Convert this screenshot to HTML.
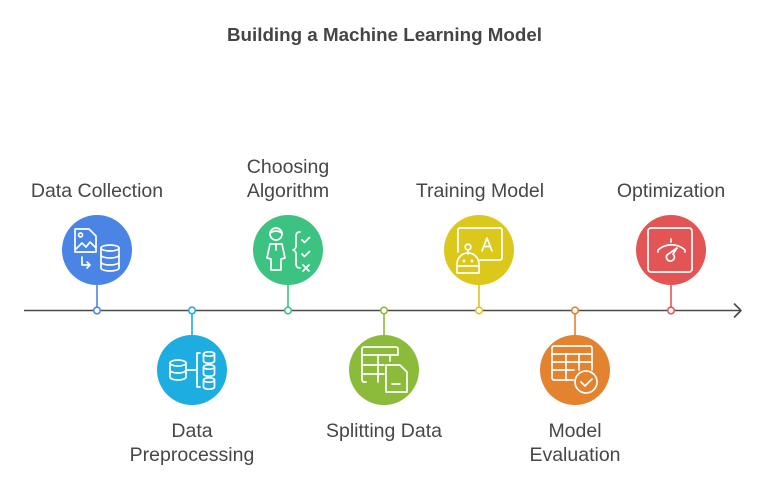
<!DOCTYPE html>
<html><head><meta charset="utf-8"><style>
html,body{margin:0;padding:0;background:#fff;}
svg{display:block;}
text{font-family:"Liberation Sans",Arial,sans-serif;}
</style></head><body>
<svg width="768" height="493" viewBox="0 0 768 493" xmlns="http://www.w3.org/2000/svg">
<rect width="768" height="493" fill="#fff"/>
<text x="384.5" y="41" text-anchor="middle" font-size="18" font-weight="bold" fill="#454545" textLength="315" lengthAdjust="spacingAndGlyphs">Building a Machine Learning Model</text>

<!-- axis -->
<line x1="24" y1="310.5" x2="741" y2="310.5" stroke="#4a4a4a" stroke-width="1.6"/>
<polyline points="734.5,304 741,310.5 734.5,317" fill="none" stroke="#4a4a4a" stroke-width="1.6" stroke-linecap="round" stroke-linejoin="round"/>

<!-- connectors -->
<g stroke-width="1.6">
<line x1="97" y1="284" x2="97" y2="310" stroke="#4A85E6"/>
<line x1="192" y1="310" x2="192" y2="336" stroke="#1EADE0"/>
<line x1="288" y1="284" x2="288" y2="310" stroke="#3DC381"/>
<line x1="384" y1="310" x2="384" y2="336" stroke="#8CBA3B"/>
<line x1="479" y1="284" x2="479" y2="310" stroke="#DCC71B"/>
<line x1="575" y1="310" x2="575" y2="336" stroke="#E3822F"/>
<line x1="671" y1="284" x2="671" y2="310" stroke="#E35555"/>
</g>
<g fill="#fff" stroke-width="1.6">
<circle cx="97" cy="310.5" r="3.3" stroke="#4A85E6"/>
<circle cx="192" cy="310.5" r="3.3" stroke="#1EADE0"/>
<circle cx="288" cy="310.5" r="3.3" stroke="#3DC381"/>
<circle cx="384" cy="310.5" r="3.3" stroke="#8CBA3B"/>
<circle cx="479" cy="310.5" r="3.3" stroke="#DCC71B"/>
<circle cx="575" cy="310.5" r="3.3" stroke="#E3822F"/>
<circle cx="671" cy="310.5" r="3.3" stroke="#E35555"/>
</g>

<!-- circles -->
<circle cx="97" cy="250" r="35" fill="#4A85E6"/>
<circle cx="192" cy="370" r="35" fill="#1EADE0"/>
<circle cx="288" cy="250" r="35" fill="#3DC381"/>
<circle cx="384" cy="370" r="35" fill="#8CBA3B"/>
<circle cx="479" cy="250" r="35" fill="#DCC71B"/>
<circle cx="575" cy="370" r="35" fill="#E3822F"/>
<circle cx="671" cy="250" r="35" fill="#E35555"/>

<g fill="none" stroke="#fff" stroke-width="1.7" stroke-linecap="round" stroke-linejoin="round">
<!-- Icon 1: image doc + arrow + database -->
<path d="M75,229 h14 l7,7 v16 h-21 z"/>
<circle cx="80.5" cy="235" r="2"/>
<path d="M76,249 l6,-6 l4,4 l4,-5 l5,5"/>
<path d="M82,257 v8 h8 M87,262 l3,3 l-3,3"/>
<ellipse cx="110" cy="248" rx="9" ry="3"/>
<path d="M101,248 v20 a9,3 0 0 0 18,0 v-20"/>
<path d="M101,255 a9,3 0 0 0 18,0 M101,262 a9,3 0 0 0 18,0"/>

<!-- Icon 2: db + bracket + 3 small dbs -->
<ellipse cx="178" cy="363" rx="8" ry="3"/>
<path d="M170,363 v14 a8,3 0 0 0 16,0 v-14"/>
<path d="M170,370 a8,3 0 0 0 16,0"/>
<path d="M186,370 h11 M200,353 h-3 v34 h3"/>
<ellipse cx="209" cy="354" rx="5.5" ry="2.2"/>
<path d="M203.5,354 v7 a5.5,2.2 0 0 0 11,0 v-7"/>
<ellipse cx="209" cy="367" rx="5.5" ry="2.2"/>
<path d="M203.5,367 v7 a5.5,2.2 0 0 0 11,0 v-7"/>
<ellipse cx="209" cy="380" rx="5.5" ry="2.2"/>
<path d="M203.5,380 v7 a5.5,2.2 0 0 0 11,0 v-7"/>

<!-- Icon 3: person + brace + checks -->
<circle cx="276" cy="234" r="6"/>
<path d="M270,233 q6,-4 12,0"/>
<path d="M270,244 h12 l3,14 l-4,1 l0,11 h-10 l0,-11 l-4,-1 z"/>
<path d="M276,244 v6"/>
<path d="M300,232 q-4,0 -4,4 v10 q0,3 -3,4 q3,1 3,4 v10 q0,4 4,4"/>
<path d="M302,240 l2.5,2.5 l5,-5"/>
<path d="M302,254 l2.5,2.5 l5,-5"/>
<path d="M303,265 l6,6 M309,265 l-6,6"/>

<!-- Icon 4: table + doc -->
<path d="M366,382 h-2 a2,2 0 0 1 -2,-2 v-31 a2,2 0 0 1 2,-2 h32 a2,2 0 0 1 2,2 v6 h-36"/>
<path d="M378,355 v27 M362,365 h22 M362,374 h22 M390,355 v6"/>
<path d="M386,365 h14 l7,7 v20 h-21 z"/>
<path d="M392,384 h8"/>

<!-- Icon 5: board + A + robot -->
<path d="M458,252 v-22 a2,2 0 0 1 2,-2 h40 a2,2 0 0 1 2,2 v28 a2,2 0 0 1 -2,2 h-20"/>
<path d="M482,251 l5,-13 l5,13 M484,246.5 h6"/>
<circle cx="468" cy="247" r="2.8"/>
<path d="M468,250 v4"/>
<path d="M457,273 v-9 a9,9 0 0 1 22,0 v9 z"/>
<path d="M457,266 h22"/>
<circle cx="464" cy="261" r="0.6"/>
<circle cx="472" cy="261" r="0.6"/>

<!-- Icon 6: table + check circle -->
<path d="M573,380 h-19 a2,2 0 0 1 -2,-2 v-30 a2,2 0 0 1 2,-2 h36 a2,2 0 0 1 2,2 v22"/>
<path d="M552,354 h40 M552,362 h40 M552,370 h22 M566,354 v26 M579,354 v16"/>
<circle cx="586" cy="382" r="11"/>
<path d="M581,382 l4,4 l7,-7"/>

<!-- Icon 7: square + gauge -->
<rect x="648" y="228" width="44" height="44" rx="3"/>
<path d="M658,252 v-2 a20,20 0 0 1 27,0 v2"/>
<path d="M671,239 v3"/>
<path d="M677,248 l-4,6 a4,4 0 1 1 -6,1 z"/>
</g>

<!-- labels -->
<g font-size="19.5" fill="#474747" text-anchor="middle">
<text x="97" y="197">Data Collection</text>
<text x="288" y="173">Choosing</text>
<text x="288" y="197">Algorithm</text>
<text x="480" y="197">Training Model</text>
<text x="671" y="197">Optimization</text>
<text x="192" y="437">Data</text>
<text x="192" y="461">Preprocessing</text>
<text x="384" y="437">Splitting Data</text>
<text x="575" y="437">Model</text>
<text x="575" y="461">Evaluation</text>
</g>
</svg>
</body></html>
